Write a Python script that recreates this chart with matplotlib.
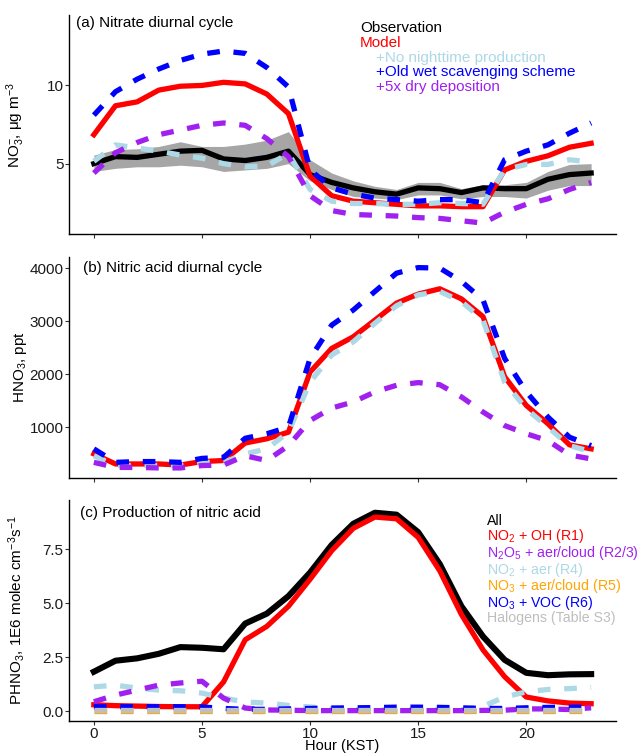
import numpy as np
import matplotlib
matplotlib.use("Agg")
import matplotlib.pyplot as plt

plt.rcParams["font.family"] = ["Liberation Sans", "DejaVu Sans"]
plt.rcParams["mathtext.fontset"] = "custom"
plt.rcParams["mathtext.rm"] = "Liberation Sans"
plt.rcParams["mathtext.it"] = "Liberation Sans"
plt.rcParams["mathtext.default"] = "regular"

hours = list(range(24))

# (a) nitrate, ug m-3
obs = [5.0, 5.45, 5.4, 5.6, 5.8, 5.85, 5.3, 5.2, 5.4, 5.8, 4.3, 3.8,
       3.45, 3.2, 3.05, 3.45, 3.4, 3.15, 3.45, 3.4, 3.4, 4.0, 4.3, 4.4]
obs_hi = [5.55, 5.9, 5.95, 6.1, 6.4, 6.1, 6.1, 6.25, 6.5, 7.05, 5.25, 4.4,
          3.9, 3.55, 3.35, 3.8, 3.8, 3.4, 3.65, 3.65, 3.8, 4.5, 4.95, 5.0]
obs_lo = [4.5, 4.7, 4.8, 4.8, 4.9, 4.8, 4.5, 4.6, 4.7, 5.0, 3.9, 3.35,
          2.9, 2.8, 2.7, 3.0, 3.0, 2.75, 2.9, 2.9, 2.8, 3.3, 3.6, 3.6]
no3_model = [6.85, 8.7, 8.95, 9.7, 9.95, 10.0, 10.2, 10.1, 9.45, 8.2, 4.2, 2.95,
             2.6, 2.5, 2.4, 2.3, 2.3, 2.25, 2.25, 4.6, 5.15, 5.5, 6.05, 6.3]
no3_nonight = [5.15, 6.2, 6.0, 5.8, 5.55, 5.35, 5.0, 4.8, 4.85, 5.65, 3.35, 2.6,
               2.45, 2.45, 2.4, 2.4, 2.5, 2.45, 2.4, 4.6, 4.95, 4.95, 5.25, 5.1]
no3_oldwet = [8.1, 9.6, 10.4, 11.05, 11.6, 12.0, 12.2, 12.05, 11.15, 9.9, 4.6, 3.45,
              3.05, 2.8, 2.7, 2.6, 2.7, 2.7, 2.5, 5.25, 5.8, 6.2, 6.95, 7.6]
no3_dry5x = [4.4, 5.7, 6.35, 6.85, 7.15, 7.45, 7.6, 7.45, 6.6, 5.45, 2.95, 2.0,
             1.75, 1.7, 1.65, 1.55, 1.5, 1.35, 1.2, 1.9, 2.4, 2.75, 3.35, 3.8]

# (b) nitric acid, ppt
hno3_model = [495, 305, 305, 305, 285, 350, 370, 700, 780, 905, 2040, 2485,
              2705, 3020, 3340, 3510, 3610, 3420, 3085, 1950, 1410, 1065, 665, 590]
hno3_nonight = [460, 275, 275, 275, 275, 335, 335, 495, 590, 905, 1850, 2360,
                2610, 2960, 3290, 3495, 3560, 3370, 3020, 1850, 1345, 1000, 650, 540]
hno3_oldwet = [590, 335, 350, 350, 335, 410, 430, 790, 875, 1000, 2295, 2925,
               3210, 3560, 3905, 4010, 4000, 3750, 3400, 2295, 1665, 1190, 810, 650]
hno3_dry5x = [335, 240, 240, 230, 230, 275, 285, 460, 370, 650, 1125, 1360,
              1475, 1665, 1790, 1840, 1800, 1570, 1285, 1030, 875, 745, 475, 400]

# (c) production of nitric acid, 1E6 molec cm-3 s-1
p_all = [1.82, 2.33, 2.44, 2.65, 2.96, 2.93, 2.86, 4.05, 4.51, 5.32, 6.41, 7.69,
         8.67, 9.18, 9.09, 8.28, 6.8, 4.85, 3.45, 2.37, 1.77, 1.66, 1.7, 1.71]
p_oh = [0.29, 0.25, 0.23, 0.21, 0.2, 0.2, 1.35, 3.3, 3.92, 4.85, 6.1, 7.42,
        8.46, 8.98, 8.9, 8.04, 6.49, 4.47, 2.83, 1.59, 0.65, 0.47, 0.37, 0.34]
p_n2o5 = [0.43, 0.74, 0.97, 1.2, 1.3, 1.38, 0.6, 0.14, 0.05, 0.04, 0.02, 0.02,
          0.02, 0.02, 0.02, 0.02, 0.02, 0.02, 0.03, 0.04, 0.1, 0.1, 0.07, 0.15]
p_no2aer = [1.12, 1.2, 1.06, 0.97, 0.94, 0.83, 0.6, 0.42, 0.37, 0.26, 0.19, 0.11,
            0.06, 0.06, 0.06, 0.06, 0.06, 0.06, 0.22, 0.65, 0.89, 1.0, 1.04, 1.09]
p_no3aer = [0.02] * 24
p_no3voc = [0.2, 0.2, 0.2, 0.2, 0.2, 0.19, 0.12, 0.08, 0.08, 0.1, 0.12, 0.14,
            0.15, 0.16, 0.18, 0.18, 0.17, 0.15, 0.12, 0.12, 0.15, 0.17, 0.18, 0.18]
p_halo = [0.03] * 24

LW = 3.8
DASH = (2.4, 2.6)

fig = plt.figure(figsize=(6.43, 7.53), dpi=100)
ax_a = fig.add_axes([0.1073, 0.6892, 0.8507, 0.2908])
ax_b = fig.add_axes([0.1073, 0.3652, 0.8507, 0.2935])
ax_c = fig.add_axes([0.1073, 0.0425, 0.8507, 0.2935])

def style(ax):
    for s in ("top", "right"):
        ax.spines[s].set_visible(False)
    for s in ("left", "bottom"):
        ax.spines[s].set_linewidth(1.0)
    ax.tick_params(length=3, width=0.8, color="#333333", labelsize=11, labelcolor="#1a1a1a", pad=1)
    ax.set_xlim(-1.15, 24.15)
    ax.set_xticks([0, 5, 10, 15, 20])

def dashed(ax, y, c):
    ax.plot(hours, y, color=c, lw=LW, dashes=DASH, dash_capstyle="butt")

# panel a
style(ax_a)
ax_a.fill_between(hours, obs_lo, obs_hi, color="#a6a6a6", lw=0)
ax_a.plot(hours, obs, color="black", lw=LW)
ax_a.plot(hours, no3_model, color="red", lw=LW)
dashed(ax_a, no3_nonight, "lightblue")
dashed(ax_a, no3_oldwet, "blue")
dashed(ax_a, no3_dry5x, "#a020f0")
ax_a.set_ylim(0.5, 14.5)
ax_a.set_yticks([5, 10])
ax_a.set_xticklabels([])
ax_a.set_ylabel("NO$_3^{-}$, μg m$^{-3}$", fontsize=11)
ax_a.yaxis.set_label_coords(-0.076, 0.5)
ax_a.text(0.0135, 0.965, "(a) Nitrate diurnal cycle", transform=ax_a.transAxes,
          fontsize=11, va="center", ha="left")
leg_a = [("Observation", "black", 0.532, 0.941),
         ("Model", "red", 0.532, 0.872),
         ("+No nighttime production", "lightblue", 0.561, 0.804),
         ("+Old wet scavenging scheme", "blue", 0.561, 0.740),
         ("+5x dry deposition", "#a020f0", 0.561, 0.671)]
for txt, c, x, y in leg_a:
    ax_a.text(x, y, txt, color=c, transform=ax_a.transAxes, fontsize=11, va="center", ha="left")

# panel b
style(ax_b)
ax_b.plot(hours, hno3_model, color="red", lw=LW)
dashed(ax_b, hno3_nonight, "lightblue")
dashed(ax_b, hno3_oldwet, "blue")
dashed(ax_b, hno3_dry5x, "#a020f0")
ax_b.set_ylim(40, 4210)
ax_b.set_yticks([1000, 2000, 3000, 4000])
ax_b.set_xticklabels([])
ax_b.set_ylabel("HNO$_3$, ppt", fontsize=11)
ax_b.yaxis.set_label_coords(-0.074, 0.5)
ax_b.text(0.025, 0.950, "(b) Nitric acid diurnal cycle", transform=ax_b.transAxes,
          fontsize=11, va="center", ha="left")

# panel c
style(ax_c)
ax_c.plot(hours, p_all, color="black", lw=LW + 0.6)
ax_c.plot(hours, p_oh, color="red", lw=LW)
dashed(ax_c, p_no2aer, "lightblue")
dashed(ax_c, p_n2o5, "#a020f0")
dashed(ax_c, p_no3aer, "orange")
dashed(ax_c, p_no3voc, "blue")
dashed(ax_c, p_halo, "#bebebe")
ax_c.set_ylim(-0.46, 9.77)
ax_c.set_yticks([0, 2.5, 5, 7.5])
ax_c.set_yticklabels(["0.0", "2.5", "5.0", "7.5"])
ax_c.set_xlabel("Hour (KST)", fontsize=10.5, va="top")
ax_c.xaxis.set_label_coords(0.5, -0.083)
ax_c.set_ylabel("PHNO$_3$, 1E6 molec cm$^{-3}$s$^{-1}$", fontsize=11)
ax_c.yaxis.set_label_coords(-0.076, 0.5)
ax_c.text(0.021, 0.9425, "(c) Production of nitric acid", transform=ax_c.transAxes,
          fontsize=11, va="center", ha="left")
leg_c = [("All", "black", 0.905),
         ("NO$_2$ + OH (R1)", "red", 0.837),
         ("N$_2$O$_5$ + aer/cloud (R2/3)", "#a020f0", 0.762),
         ("NO$_2$ + aer (R4)", "lightblue", 0.683),
         ("NO$_3$ + aer/cloud (R5)", "orange", 0.611),
         ("NO$_3$ + VOC (R6)", "blue", 0.534),
         ("Halogens (Table S3)", "#bebebe", 0.466)]
for txt, c, y in leg_c:
    ax_c.text(0.764, y, txt, color=c, transform=ax_c.transAxes, fontsize=10.2, va="center", ha="left")

fig.savefig("out.png", dpi=100)
